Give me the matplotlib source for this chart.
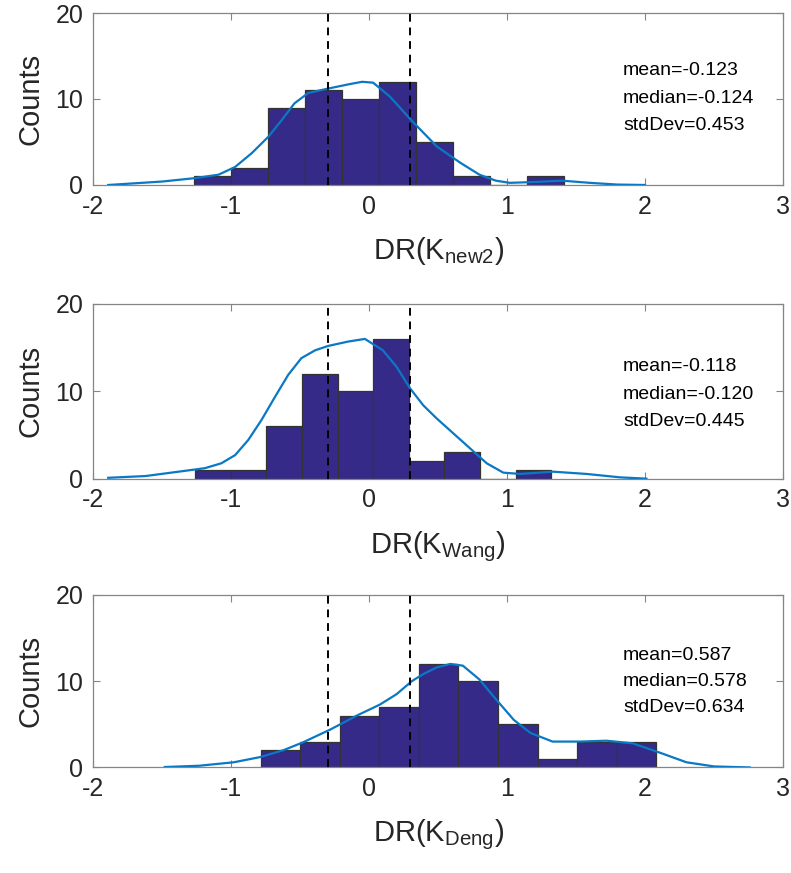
import numpy as np
import matplotlib
matplotlib.use("Agg")
import matplotlib.pyplot as plt
from matplotlib import font_manager as fm

# ---------------- data ----------------
edges1 = [-1.27, -1.002, -0.734, -0.466, -0.198, 0.07, 0.338, 0.606, 0.874, 1.142, 1.41]
counts1 = [1, 2, 9, 11, 10, 12, 5, 1, 0, 1]
curve1_x = [-1.89, -1.5, -1.26, -1.09, -0.97, -0.85, -0.73, -0.63, -0.54, -0.44, -0.30, -0.15,
            -0.05, 0.03, 0.15, 0.32, 0.49, 0.66, 0.80, 0.92, 1.02, 1.2, 1.4, 1.6, 1.8, 2.0]
curve1_y = [0.0, 0.4, 0.8, 1.2, 2.1, 3.7, 5.6, 7.6, 9.5, 10.7, 11.2, 11.7,
            12.0, 11.9, 10.3, 7.3, 4.5, 2.6, 1.2, 0.5, 0.25, 0.35, 0.5, 0.25, 0.05, 0.0]
stats1 = ["mean=-0.123", "median=-0.124", "stdDev=0.453"]
label1 = "new2"

edges2 = [-1.26, -1.002, -0.744, -0.486, -0.228, 0.03, 0.288, 0.546, 0.804, 1.062, 1.32]
counts2 = [1, 1, 6, 12, 10, 16, 2, 3, 0, 1]
curve2_x = [-1.89, -1.62, -1.38, -1.19, -1.07, -0.97, -0.875, -0.78, -0.68, -0.585, -0.49, -0.39,
            -0.295, -0.15, -0.03, 0.10, 0.20, 0.297, 0.393, 0.49, 0.61, 0.73, 0.853, 0.973,
            1.094, 1.335, 1.577, 1.82, 2.01]
curve2_y = [0.1, 0.3, 0.8, 1.2, 1.76, 2.7, 4.43, 6.7, 9.4, 11.9, 13.8, 14.7,
            15.2, 15.7, 16.0, 14.7, 12.8, 10.35, 8.4, 6.9, 5.2, 3.5, 1.76, 0.69,
            0.54, 0.8, 0.54, 0.15, 0.0]
stats2 = ["mean=-0.118", "median=-0.120", "stdDev=0.445"]
label2 = "Wang"

edges3 = [-0.785, -0.498, -0.212, 0.075, 0.361, 0.648, 0.935, 1.221, 1.508, 1.794, 2.081]
counts3 = [2, 3, 6, 7, 12, 10, 5, 1, 3, 3]
curve3_x = [-1.48, -1.23, -0.98, -0.79, -0.62, -0.48, -0.28, -0.09, 0.08, 0.20, 0.31, 0.39,
            0.49, 0.59, 0.68, 0.80, 0.92, 1.05, 1.17, 1.33, 1.53, 1.72, 1.91, 2.11, 2.30,
            2.50, 2.76]
curve3_y = [0.05, 0.2, 0.6, 1.2, 2.0, 2.9, 4.4, 6.0, 7.3, 8.5, 10.0, 10.8,
            11.6, 12.0, 11.8, 10.2, 7.9, 5.5, 4.0, 3.0, 3.0, 3.1, 2.8, 1.7, 0.6,
            0.12, 0.0]
stats3 = ["mean=0.587", "median=0.578", "stdDev=0.634"]
label3 = "Deng"

threshold = [-0.3, 0.3]
xticks = [-2, -1, 0, 1, 2, 3]
yticks = [0, 10, 20]

# ---------------- style ----------------
avail = {f.name for f in fm.fontManager.ttflist}
narrow = "Liberation Sans Narrow" if "Liberation Sans Narrow" in avail else "Liberation Sans"
plt.rcParams['font.family'] = [narrow, 'DejaVu Sans']
plt.rcParams['mathtext.fontset'] = 'custom'
plt.rcParams['mathtext.rm'] = narrow
plt.rcParams['mathtext.it'] = narrow
plt.rcParams['axes.unicode_minus'] = False

fig = plt.figure(figsize=(7.91, 8.73), dpi=100)
positions = [
    [0.1176, 0.7881, 0.8723, 0.1970],
    [0.1176, 0.4517, 0.8723, 0.2001],
    [0.1176, 0.1209, 0.8723, 0.1976],
]
bar_color = '#352A87'
line_color = '#0A78C4'
axis_color = '#858585'

panels = [
    (edges1, counts1, curve1_x, curve1_y, stats1, label1, [13.3, 10.0, 6.9]),
    (edges2, counts2, curve2_x, curve2_y, stats2, label2, [12.8, 9.6, 6.5]),
    (edges3, counts3, curve3_x, curve3_y, stats3, label3, [13.0, 10.0, 7.0]),
]

for pos, (edges, counts, cx, cy, stats, lab, ty) in zip(positions, panels):
    ax = fig.add_axes(pos)
    e = np.array(edges)
    ax.bar(e[:-1], counts, width=np.diff(e), align='edge', color=bar_color,
           edgecolor='#333333', linewidth=0.9, zorder=2)
    ax.plot(cx, cy, color=line_color, linewidth=1.6, zorder=3)
    for t in threshold:
        ax.axvline(t, color='black', linestyle=(0, (4, 3)), linewidth=1.4, zorder=4)
    ax.set_xlim(-2, 3)
    ax.set_ylim(0, 20)
    ax.set_xticks(xticks)
    ax.set_yticks(yticks)
    ax.tick_params(direction='in', length=5, width=0.8, color=axis_color,
                   top=True, right=True, labelsize=18, pad=7, labelcolor='#262626')
    for s in ax.spines.values():
        s.set_color(axis_color)
        s.set_linewidth(0.9)
    ax.set_ylabel('Counts', fontsize=21, labelpad=8, color='#262626')
    ax.set_xlabel(r'DR(K$_{\mathregular{%s}}$)' % lab, fontsize=21, labelpad=12, color='#262626')
    for s, y in zip(stats, ty):
        ax.text(1.84, y, s, fontsize=14, va='center', ha='left',
                family=['Liberation Sans', 'DejaVu Sans'], color='black', zorder=5)

fig.savefig('out.png', dpi=100)
